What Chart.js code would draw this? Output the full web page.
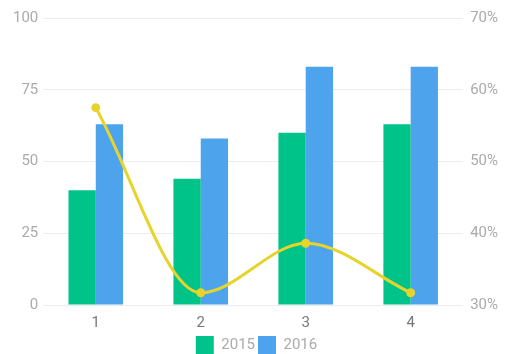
<!DOCTYPE html>
<html>
<head>
<meta charset="utf-8">
<script src="https://cdn.jsdelivr.net/npm/chart.js@4/dist/chart.umd.min.js"></script>
<style>
  html, body { margin: 0; padding: 0; background: #fff; }
  #wrap { width: 511px; height: 354px; }
</style>
</head>
<body>
<div id="wrap"><canvas id="c" width="511" height="354"></canvas></div>
<script>
const categories = ['1', '2', '3', '4'];
const values2015 = [40, 44, 60, 63];
const values2016 = [63, 58, 83, 83];
const rateValues = [57.5, 31.7, 38.6, 31.7];
const leftTicks = [0, 25, 50, 75, 100];
const rightTicks = [30, 40, 50, 60, 70];

const tickFont = { family: 'Roboto, "Noto Sans", sans-serif', size: 15 };

new Chart(document.getElementById('c'), {
  data: {
    labels: categories,
    datasets: [
      {
        type: 'line',
        label: 'rate',
        data: rateValues,
        yAxisID: 'y1',
        borderColor: '#e6d42c',
        backgroundColor: '#e6d42c',
        borderWidth: 3,
        pointRadius: 3,
        pointBackgroundColor: '#e6d42c',
        cubicInterpolationMode: 'monotone',
        order: 0
      },
      {
        type: 'bar',
        label: '2015',
        data: values2015,
        yAxisID: 'y',
        backgroundColor: '#00c38a',
        categoryPercentage: 0.52,
        barPercentage: 1.0,
        order: 1
      },
      {
        type: 'bar',
        label: '2016',
        data: values2016,
        yAxisID: 'y',
        backgroundColor: '#4da4ec',
        categoryPercentage: 0.52,
        barPercentage: 1.0,
        order: 1
      }
    ]
  },
  options: {
    responsive: false,
    animation: false,
    layout: { padding: { left: 8, right: 6, top: 18, bottom: -10 } },
    plugins: {
      tooltip: { enabled: false },
      legend: {
        position: 'bottom',
        labels: {
          filter: item => item.text !== 'rate',
          boxWidth: 18,
          boxHeight: 18,
          padding: 3,
          color: '#aaa',
          font: tickFont
        }
      }
    },
    scales: {
      x: {
        grid: { display: false },
        border: { display: false },
        ticks: { color: '#777', font: tickFont, padding: 1 }
      },
      y: {
        position: 'left',
        min: 0,
        max: 100,
        afterBuildTicks: axis => { axis.ticks = leftTicks.map(v => ({ value: v })); },
        grid: { color: '#ececec', drawTicks: false },
        border: { display: false },
        ticks: { color: '#aaa', font: tickFont, padding: 5 }
      },
      y1: {
        position: 'right',
        min: 30,
        max: 70,
        afterBuildTicks: axis => { axis.ticks = rightTicks.map(v => ({ value: v })); },
        grid: { display: false, drawTicks: false },
        border: { display: false },
        ticks: { color: '#aaa', font: tickFont, padding: 7, callback: v => v + '%' }
      }
    }
  }
});
</script>
</body>
</html>
